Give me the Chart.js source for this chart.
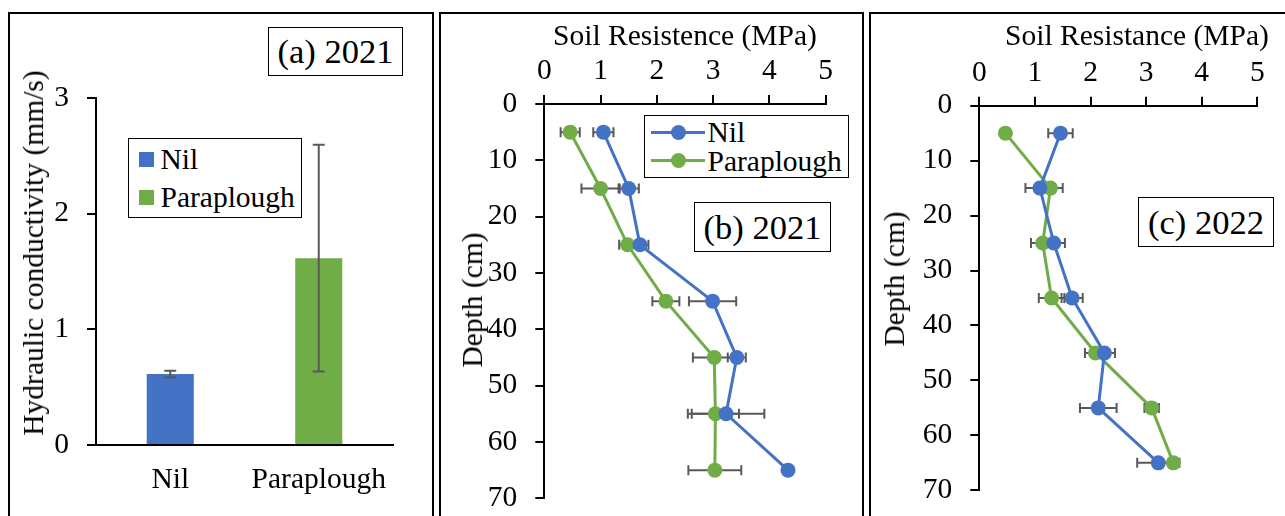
<!DOCTYPE html>
<html>
<head>
<meta charset="utf-8">
<script src="https://cdn.jsdelivr.net/npm/chart.js@4.4.1/dist/chart.umd.min.js"></script>
<style>
  html,body{margin:0;padding:0;background:#fff;}
  body{width:1285px;height:516px;position:relative;overflow:hidden;font-family:"Liberation Serif","Times New Roman",serif;color:#000;}
  .panel{position:absolute;box-sizing:border-box;border:2px solid #000;height:560px;}
  canvas{position:absolute;top:0;}
  .txt{position:absolute;white-space:nowrap;font-size:29.5px;line-height:32px;}
  .rot{position:absolute;white-space:nowrap;font-size:29.5px;line-height:32px;transform:translate(-50%,-50%) rotate(-90deg);}
  .htitle{position:absolute;white-space:nowrap;font-size:29.5px;line-height:32px;transform:translate(-50%,-50%);}
  .box{position:absolute;box-sizing:border-box;border:1.5px solid #000;background:#fff;}
  .lab{position:absolute;box-sizing:border-box;border:1.5px solid #000;background:#fff;font-size:34.5px;display:flex;align-items:center;justify-content:center;}
</style>
</head>
<body>
<div class="panel" style="left:8px;top:12px;width:426px;"></div>
<div class="panel" style="left:439px;top:12px;width:425px;"></div>
<div class="panel" style="left:869px;top:12px;width:430px;"></div>

<canvas id="ca" width="436" height="516" style="left:0px"></canvas>
<canvas id="cb" width="430" height="534" style="left:436px"></canvas>
<canvas id="cc" width="419" height="526" style="left:866px"></canvas>

<div class="rot" style="left:33px;top:253px;">Hydraulic conductivity (mm/s)</div>
<div class="rot" style="left:472px;top:300px;">Depth (cm)</div>
<div class="rot" style="left:894px;top:279px;">Depth (cm)</div>
<div class="htitle" style="left:685px;top:35px;">Soil Resistence (MPa)</div>
<div class="htitle" style="left:1137px;top:35px;">Soil Resistance (MPa)</div>

<div class="lab" style="left:268px;top:27px;width:135px;height:49px;">(a) 2021</div>
<div class="lab" style="left:694px;top:202px;width:137px;height:50px;">(b) 2021</div>
<div class="lab" style="left:1138px;top:197px;width:136px;height:50px;">(c) 2022</div>

<div id="legA" class="box" style="left:128px;top:138px;width:174px;height:80px;"></div>
<div id="legB" class="box" style="left:644px;top:115px;width:205px;height:63px;"></div>

<script>
// ---- data ----
const barCategories = ['Nil', 'Paraplough'];
const hydCond = [0.613, 1.615];
const hydCondErr = [0.03, 0.98];

const depths = [5, 15, 25, 35, 45, 55, 65];
const nil2021 = [1.05, 1.50, 1.70, 2.99, 3.42, 3.23, 4.33];
const nil2021Err = [0.18, 0.18, 0.15, 0.42, 0.16, 0.68, 0.05];
const para2021 = [0.46, 1.00, 1.48, 2.16, 3.02, 3.04, 3.03];
const para2021Err = [0.17, 0.34, 0.15, 0.24, 0.38, 0.42, 0.47];

const nil2022 = [1.46, 1.09, 1.34, 1.67, 2.25, 2.14, 3.22];
const nil2022Err = [0.22, 0.26, 0.20, 0.19, 0.19, 0.33, 0.38];
const para2022 = [0.47, 1.28, 1.14, 1.30, 2.09, 3.10, 3.49];
const para2022Err = [0.0, 0.22, 0.21, 0.23, 0.19, 0.13, 0.08];

const seriesNames = ['Nil', 'Paraplough'];
const seriesColors = ['#4472C4', '#70AD47'];
const hydTicks = [0, 1, 2, 3];
const depthTicks = [0, 10, 20, 30, 40, 50, 60, 70];
const resistTicks = [0, 1, 2, 3, 4, 5];

Chart.defaults.font.family = '"Liberation Serif","Times New Roman",serif';
Chart.defaults.font.size = 29.5;
Chart.defaults.color = '#000';
Chart.defaults.animation = false;

const ERR_COLOR = '#595959';

const errorBars = {
  id: 'errorBars',
  drawBars(chart) {
    const ctx = chart.ctx;
    chart.data.datasets.forEach((ds, di) => {
      if (!ds.errors) return;
      const meta = chart.getDatasetMeta(di);
      const xs = chart.scales.x, ys = chart.scales.y;
      ctx.save();
      ctx.strokeStyle = ERR_COLOR;
      ctx.lineWidth = 2;
      meta.data.forEach((el, i) => {
        const e = ds.errors[i];
        if (!e) return;
        if (chart.config.type === 'bar') {
          const v = ds.data[i];
          const x = el.x;
          const y1 = ys.getPixelForValue(v + e), y2 = ys.getPixelForValue(v - e);
          ctx.beginPath();
          ctx.moveTo(x, y1); ctx.lineTo(x, y2);
          ctx.moveTo(x - 6, y1); ctx.lineTo(x + 6, y1);
          ctx.moveTo(x - 6, y2); ctx.lineTo(x + 6, y2);
          ctx.stroke();
        } else {
          const p = ds.data[i];
          const y = ys.getPixelForValue(p.y);
          const x1 = xs.getPixelForValue(p.x - e), x2 = xs.getPixelForValue(p.x + e);
          ctx.beginPath();
          ctx.moveTo(x1, y); ctx.lineTo(x2, y);
          ctx.moveTo(x1, y - 5); ctx.lineTo(x1, y + 5);
          ctx.moveTo(x2, y - 5); ctx.lineTo(x2, y + 5);
          ctx.stroke();
        }
      });
      ctx.restore();
    });
  },
  beforeDatasetsDraw(chart) { if (chart.config.type !== 'bar') this.drawBars(chart); },
  afterDatasetsDraw(chart) { if (chart.config.type === 'bar') this.drawBars(chart); }
};

function axisStyle() {
  return {
    border: { display: true, color: '#000', width: 2 },
    grid: { drawOnChartArea: false, drawTicks: true, tickLength: 9, color: '#000', lineWidth: 2 }
  };
}

// ---- panel (a) ----
new Chart(document.getElementById('ca'), {
  type: 'bar',
  data: {
    labels: barCategories,
    datasets: [{
      data: hydCond,
      errors: hydCondErr,
      backgroundColor: seriesColors,
      barPercentage: 1,
      categoryPercentage: 0.317
    }]
  },
  options: {
    responsive: false,
    devicePixelRatio: 1,
    layout: { padding: { left: 0, top: 98, right: 43, bottom: 0 } },
    plugins: { legend: { display: false }, tooltip: { enabled: false } },
    scales: {
      x: {
        border: { display: true, color: '#000', width: 2 },
        grid: { display: false, drawTicks: false },
        ticks: { padding: 18 },
        afterFit: s => { s.height = 71; }
      },
      y: Object.assign(axisStyle(), {
        min: 0, max: 3,
        afterBuildTicks: s => { s.ticks = hydTicks.map(v => ({ value: v })); },
        ticks: { padding: 18 },
        afterFit: s => { s.width = 96; }
      })
    }
  },
  plugins: [errorBars]
});

function profile(canvasId, nil, nilErr, para, paraErr, yWidth, xHeight, padRight) {
  const mk = (vals, errs, idx) => ({
    label: seriesNames[idx],
    data: depths.map((d, i) => ({ x: vals[i], y: d })),
    errors: errs,
    showLine: true,
    borderColor: seriesColors[idx],
    backgroundColor: seriesColors[idx],
    borderWidth: 3,
    pointRadius: 7.5,
    pointBorderWidth: 0
  });
  new Chart(document.getElementById(canvasId), {
    type: 'scatter',
    data: { datasets: [mk(nil, nilErr, 0), mk(para, paraErr, 1)] },
    options: {
      responsive: false,
      devicePixelRatio: 1,
      layout: { padding: { left: 0, top: 0, right: padRight, bottom: 0 } },
      plugins: { legend: { display: false }, tooltip: { enabled: false } },
      scales: {
        x: Object.assign(axisStyle(), {
          position: 'top', min: 0, max: 5,
          afterBuildTicks: s => { s.ticks = resistTicks.map(v => ({ value: v })); },
          ticks: { padding: 6 },
          afterFit: s => { s.height = xHeight; }
        }),
        y: Object.assign(axisStyle(), {
          min: 0, max: 70, reverse: true,
          afterBuildTicks: s => { s.ticks = depthTicks.map(v => ({ value: v })); },
          ticks: { padding: 18 },
          afterFit: s => { s.width = yWidth; }
        })
      }
    },
    plugins: [errorBars]
  });
}

profile('cb', nil2021, nil2021Err, para2021, para2021Err, 108.3, 104, 40.3);
profile('cc', nil2022, nil2022Err, para2022, para2022Err, 113.3, 105.7, 27.7);

// ---- legends (HTML text) ----
function legendA() {
  const el = document.getElementById('legA');
  seriesNames.forEach((n, i) => {
    const sq = document.createElement('div');
    sq.style.cssText = `position:absolute;left:9.5px;top:${12.5 + i * 38}px;width:15px;height:15px;background:${seriesColors[i]};`;
    el.appendChild(sq);
    const t = document.createElement('div');
    t.className = 'txt';
    t.style.cssText += `left:31.5px;top:${4 + i * 38}px;`;
    t.textContent = n;
    el.appendChild(t);
  });
}
function legendB() {
  const el = document.getElementById('legB');
  seriesNames.forEach((n, i) => {
    const cy = 16.2 + i * 28.5;
    const ln = document.createElement('div');
    ln.style.cssText = `position:absolute;left:5.5px;top:${cy - 1.5}px;width:54px;height:3px;background:${seriesColors[i]};`;
    el.appendChild(ln);
    const c = document.createElement('div');
    c.style.cssText = `position:absolute;left:${33 - 7.5}px;top:${cy - 7.5}px;width:15px;height:15px;border-radius:50%;background:${seriesColors[i]};`;
    el.appendChild(c);
    const t = document.createElement('div');
    t.className = 'txt';
    t.style.cssText += `left:62.5px;top:${cy - 16}px;`;
    t.textContent = n;
    el.appendChild(t);
  });
}
legendA();
legendB();
</script>
</body>
</html>
